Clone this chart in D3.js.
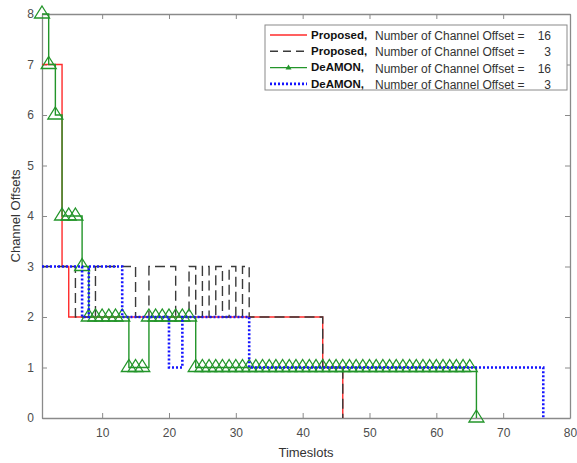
<!DOCTYPE html>
<html>
<head>
<meta charset="utf-8">
<script src="https://cdn.jsdelivr.net/npm/d3@7"></script>
<style>
    body { margin: 0; background: #fff; }
    text { font-family: "Liberation Sans", Arial, sans-serif; }
    .axis path, .axis line { stroke: #8a8a8a; }
    .axis text { fill: #4d4d4d; font-size: 12px; }
</style>
</head>
<body>
<div id="chart"></div>
<script>
    'use strict';

    // channel offset used in each timeslot (timeslot = index + 1)
    var proposed16 = [7, 7, 7, 3,
        2, 2, 2, 2, 2, 2, 2, 2, 2, 2,
        2, 2, 2, 2, 2, 2, 2, 2, 2, 2,
        2, 2, 2, 2, 2, 2, 2, 2, 2, 2,
        2, 2, 2, 2, 2, 2, 2, 2,
        1, 1, 1, 0];
    var proposed3 = [3, 3, 3, 3, 3, 2, 2, 2, 3, 3, 3, 3, 3, 3, 2, 2, 3, 3, 3, 3,
        2, 2, 3, 2, 3, 2, 3, 2, 3, 2, 3,
        2, 2, 2, 2, 2, 2, 2, 2, 2, 2, 2,
        1, 1, 1, 0];
    var deamon16 = [8, 7, 6, 4, 4, 4, 3, 2, 2, 2, 2, 2, 2, 1, 1, 1, 2, 2, 2, 2, 2, 2, 2,
        1, 1, 1, 1, 1, 1, 1, 1, 1, 1,
        1, 1, 1, 1, 1, 1, 1, 1, 1, 1,
        1, 1, 1, 1, 1, 1, 1, 1, 1, 1,
        1, 1, 1, 1, 1, 1, 1, 1, 1, 1,
        1, 1,
        0];
    var deamon3 = [3, 3, 3, 3, 3, 3, 2, 3, 3, 3, 3, 3, 2, 2, 2, 2, 2, 2, 2, 1, 1,
        2, 2, 2, 2, 2, 2, 2, 2, 2, 2,
        1, 1, 1, 1, 1, 1, 1, 1, 1, 1,
        1, 1, 1, 1, 1, 1, 1, 1, 1, 1,
        1, 1, 1, 1, 1, 1, 1, 1, 1, 1,
        1, 1, 1, 1, 1, 1, 1, 1, 1, 1,
        1, 1, 1, 1,
        0];

    var xTicks = [10, 20, 30, 40, 50, 60, 70, 80];
    var yTicks = [0, 1, 2, 3, 4, 5, 6, 7, 8];
    var legendNames = ['Proposed,', 'Proposed,', 'DeAMON,', 'DeAMON,'];
    var legendOffsets = ['16', '3', '16', '3'];

    var width = 577, height = 463;
    var margin = {top: 14, right: 7, bottom: 45, left: 42};
    var plotW = width - margin.left - margin.right,
        plotH = height - margin.top - margin.bottom;

    var svg = d3.select('#chart').append('svg')
        .attr('width', width)
        .attr('height', height);

    var g = svg.append('g')
        .attr('transform', 'translate(' + margin.left + ',' + margin.top + ')');

    var x = d3.scaleLinear().domain([1, 80]).range([0, plotW]);
    var y = d3.scaleLinear().domain([0, 8]).range([plotH, 0]);

    // axes, ticks pointing inwards like matlab, box on
    g.append('g').attr('class', 'axis')
        .attr('transform', 'translate(0,' + plotH + ')')
        .call(d3.axisBottom(x).tickValues(xTicks).tickSizeInner(-5).tickSizeOuter(0).tickPadding(10));
    g.append('g').attr('class', 'axis')
        .call(d3.axisTop(x).tickValues(xTicks).tickSizeInner(-5).tickSizeOuter(0).tickFormat(''));
    g.append('g').attr('class', 'axis')
        .call(d3.axisLeft(y).tickValues(yTicks).tickSizeInner(-5).tickSizeOuter(0).tickPadding(8));
    g.append('g').attr('class', 'axis')
        .attr('transform', 'translate(' + plotW + ',0)')
        .call(d3.axisRight(y).tickValues(yTicks).tickSizeInner(-5).tickSizeOuter(0).tickFormat(''));
    g.selectAll('.axis .domain').attr('stroke-width', 1.3);

    svg.append('text')
        .attr('x', margin.left + plotW / 2)
        .attr('y', 457)
        .attr('text-anchor', 'middle')
        .style('font-size', '13px')
        .style('fill', '#333')
        .text('Timeslots');
    svg.append('text')
        .attr('transform', 'translate(20,' + (margin.top + plotH / 2) + ') rotate(-90)')
        .attr('text-anchor', 'middle')
        .style('font-size', '13px')
        .style('fill', '#333')
        .text('Channel Offsets');

    var stairs = d3.line()
        .x(function(d, i) { return x(i + 1); })
        .y(function(d) { return y(d); })
        .curve(d3.curveStepAfter);

    var series = [
        {values: proposed16, color: '#ff2b2b', width: 1.4, dash: null},
        {values: proposed3, color: '#3a3a3a', width: 1.4, dash: '10,5'},
        {values: deamon16, color: '#23952a', width: 1.4, dash: null},
        {values: deamon3, color: '#1414ff', width: 2.6, dash: '2,2'}
    ];

    series.forEach(function(s, k) {
        g.append('path')
            .datum(s.values)
            .attr('fill', 'none')
            .attr('stroke', s.color)
            .attr('stroke-width', s.width)
            .attr('stroke-dasharray', s.dash)
            .attr('d', stairs);

        // DeAMON 16 has open triangle markers at every timeslot
        if (k === 2) {
            g.selectAll('path.marker')
                .data(s.values)
                .enter().append('path')
                .attr('class', 'marker')
                .attr('fill', 'none')
                .attr('stroke', s.color)
                .attr('stroke-width', 1.3)
                .attr('d', function(d, i) {
                    var cx = x(i + 1), cy = y(d);
                    return 'M' + cx + ',' + (cy - 8) + 'L' + (cx + 7.5) + ',' + (cy + 4)
                        + 'L' + (cx - 7.5) + ',' + (cy + 4) + 'Z';
                });
        }
    });

    // legend
    var legend = svg.append('g').attr('transform', 'translate(265,25)');
    legend.append('rect')
        .attr('width', 302)
        .attr('height', 65)
        .attr('fill', '#fff')
        .attr('stroke', '#8a8a8a')
        .attr('stroke-width', 1);

    series.forEach(function(s, k) {
        var ry = 10 + k * 16.3;
        legend.append('line')
            .attr('x1', 5).attr('x2', 42)
            .attr('y1', ry).attr('y2', ry)
            .attr('stroke', s.color)
            .attr('stroke-width', s.width)
            .attr('stroke-dasharray', k === 1 ? '8,5' : s.dash);
        if (k === 2) {
            legend.append('path')
                .attr('d', 'M23.5,' + (ry - 3) + 'L26.5,' + (ry + 2) + 'L20.5,' + (ry + 2) + 'Z')
                .attr('fill', s.color);
        }
        legend.append('text')
            .attr('x', 46).attr('y', ry)
            .attr('dy', '0.33em')
            .style('font-size', '11.5px')
            .style('font-weight', 'bold')
            .style('fill', '#111')
            .text(legendNames[k]);
        legend.append('text')
            .attr('x', 110).attr('y', ry + 1)
            .attr('dy', '0.33em')
            .style('font-size', '12px')
            .style('fill', '#333')
            .text('Number of Channel Offset =');
        legend.append('text')
            .attr('x', 286).attr('y', ry + 1)
            .attr('dy', '0.33em')
            .attr('text-anchor', 'end')
            .style('font-size', '12px')
            .style('fill', '#333')
            .text(legendOffsets[k]);
    });
</script>
</body>
</html>
